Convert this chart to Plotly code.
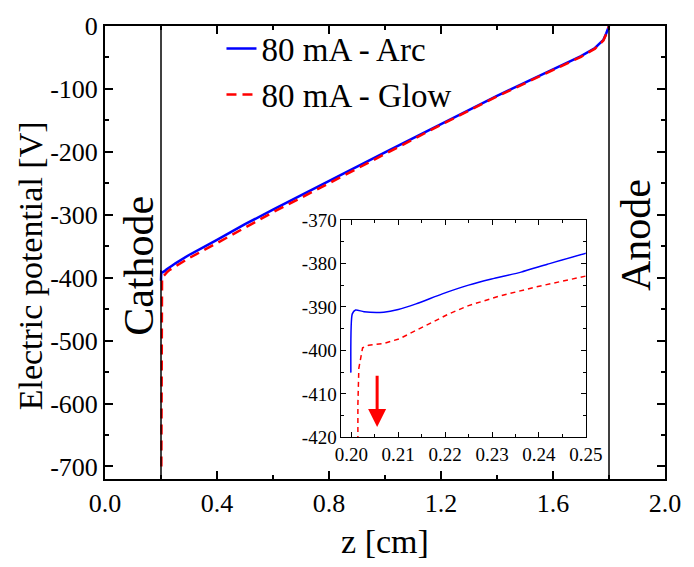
import plotly.graph_objects as go

# Axial potential profile, z in cm, potential in V
z_arc = [0.1999, 0.2002, 0.2009, 0.2027, 0.2069, 0.2100, 0.2138, 0.2194, 0.2250,
         0.2299, 0.2362, 0.2418, 0.2502, 0.30, 0.40, 0.50, 0.60, 0.80, 1.00,
         1.20, 1.40, 1.60, 1.70, 1.75, 1.78, 1.79, 1.80]
v_arc = [-405.1, -391.6, -390.7, -391.1, -391.2, -390.6, -389.3, -387.0, -385.0,
         -383.6, -382.0, -380.2, -377.6, -364, -340, -315, -292, -246, -201,
         -156, -111, -69, -48, -35, -22, -12, 0]

z_glow = [0.2013, 0.2014, 0.2016, 0.2020, 0.2024, 0.2037, 0.2069, 0.2103, 0.2152,
          0.2208, 0.2250, 0.2313, 0.2390, 0.2502, 0.30, 0.40, 0.50, 0.60, 0.80,
          1.00, 1.20, 1.40, 1.60, 1.70, 1.75, 1.78, 1.79, 1.80]
v_glow = [-700, -412.4, -404.1, -401.4, -399.4, -398.8, -398.4, -397.3, -394.6,
          -391.6, -389.7, -387.6, -385.5, -382.5, -369, -345, -320, -296, -250,
          -203, -157, -112, -70, -49, -36, -23, -13, 0]

# tick positions / labels (plain hyphen as minus sign)
main_yticks = [0, -100, -200, -300, -400, -500, -600, -700]
main_ylabels = ["0", "-100", "-200", "-300", "-400", "-500", "-600", "-700"]
inset_yticks = [-370, -380, -390, -400, -410, -420]
inset_ylabels = ["-370", "-380", "-390", "-400", "-410", "-420"]

cathode_z = 0.2
anode_z = 1.8
arrow_z = 0.2055
arrow_from_v = -405.5
arrow_to_v = -417.6

FONT = "Times New Roman, Liberation Serif, serif"
BLUE = "#0000ff"
RED = "#ff0000"

fig = go.Figure()

# main panel
fig.add_trace(go.Scatter(x=z_arc, y=v_arc, mode="lines", name="80 mA - Arc",
                         line=dict(color=BLUE, width=2.5), xaxis="x", yaxis="y"))
fig.add_trace(go.Scatter(x=z_glow, y=v_glow, mode="lines", name="80 mA - Glow",
                         line=dict(color=RED, width=2.5, dash="10px,6px"),
                         xaxis="x", yaxis="y"))

# inset zoom near the cathode
fig.add_trace(go.Scatter(x=z_arc, y=v_arc, mode="lines", showlegend=False,
                         line=dict(color=BLUE, width=1.5, shape="spline",
                                   smoothing=0.6),
                         xaxis="x2", yaxis="y2"))
fig.add_trace(go.Scatter(x=z_glow, y=v_glow, mode="lines", showlegend=False,
                         line=dict(color=RED, width=1.5, dash="5px,4px"),
                         xaxis="x2", yaxis="y2"))

axis_common = dict(showline=True, linecolor="black", mirror="allticks",
                   ticks="inside", tickcolor="black", showgrid=False,
                   zeroline=False)

fig.update_layout(
    width=694, height=567,
    margin=dict(l=105, r=16, t=21, b=88),
    paper_bgcolor="white", plot_bgcolor="white",
    font=dict(family=FONT, color="black"),
    xaxis=dict(**axis_common, range=[0, 2.0], dtick=0.4, tick0=0,
               tickformat=".1f", linewidth=2, ticklen=8, tickwidth=1.5,
               minor=dict(dtick=0.2, ticks="inside", ticklen=4, tickcolor="black"),
               tickfont=dict(size=26, color="black"),
               title=dict(text="z [cm]", font=dict(size=34, color="black"),
                          standoff=12)),
    yaxis=dict(**axis_common, range=[-720, 0], tickmode="array",
               tickvals=main_yticks, ticktext=main_ylabels,
               linewidth=2, ticklen=8, tickwidth=1.5,
               minor=dict(dtick=50, tick0=0, ticks="inside", ticklen=4,
                          tickcolor="black"),
               tickfont=dict(size=26, color="black")),
    xaxis2=dict(**axis_common, domain=[0.4223, 0.8586], anchor="y2",
                range=[0.1979, 0.25], dtick=0.01, tick0=0.2, tickformat=".2f",
                linewidth=1, ticklen=5, tickwidth=1,
                minor=dict(dtick=0.005, ticks="inside", ticklen=3, tickcolor="black"),
                tickfont=dict(size=19, color="black")),
    yaxis2=dict(**axis_common, domain=[0.0917, 0.572], anchor="x2",
                range=[-420, -370], tickmode="array",
                tickvals=inset_yticks, ticktext=inset_ylabels,
                linewidth=1, ticklen=5, tickwidth=1,
                minor=dict(dtick=5, tick0=0, ticks="inside", ticklen=3,
                           tickcolor="black"),
                tickfont=dict(size=19, color="black")),
    legend=dict(x=0.208, y=1.012, xanchor="left", yanchor="top",
                bgcolor="rgba(0,0,0,0)", font=dict(size=33, color="black"),
                tracegroupgap=0),
    showlegend=True,
)

# y-axis title, placed slightly below the axis midpoint
fig.add_annotation(x=-0.134, y=0.4716, xref="paper", yref="paper",
                   text="Electric potential [V]", textangle=-90, showarrow=False,
                   xanchor="center", yanchor="middle",
                   font=dict(size=34, color="black"))

# electrode boundaries
for zz in (cathode_z, anode_z):
    fig.add_shape(type="line", xref="x", yref="paper", x0=zz, x1=zz, y0=0, y1=1,
                  line=dict(color="black", width=1.5))

fig.add_annotation(x=0.122, y=-381, xref="x", yref="y", text="Cathode",
                   textangle=-90, showarrow=False,
                   font=dict(size=42, color="black"))
fig.add_annotation(x=1.895, y=-333, xref="x", yref="y", text="Anode",
                   textangle=-90, showarrow=False,
                   font=dict(size=42, color="black"))

# arrow pointing down along the glow-mode cathode fall
fig.add_annotation(x=arrow_z, y=arrow_to_v, xref="x2", yref="y2",
                   ax=arrow_z, ay=arrow_from_v, axref="x2", ayref="y2",
                   text="", showarrow=True, arrowhead=2, arrowsize=1.2,
                   arrowwidth=3, arrowcolor=RED)

fig.write_html("out.html")
